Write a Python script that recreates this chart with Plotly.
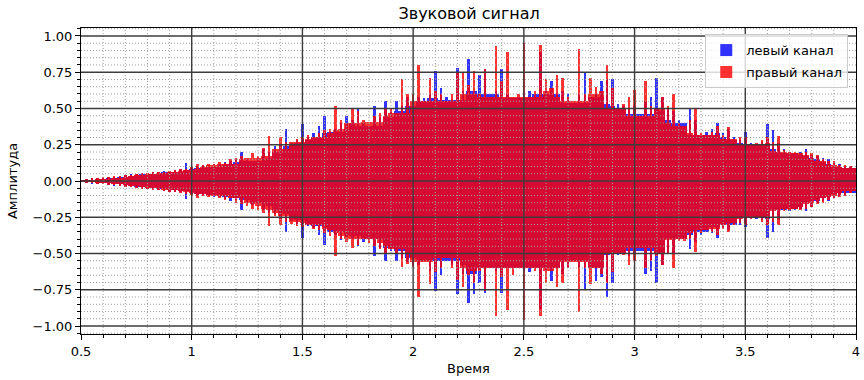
import numpy as np
import plotly.graph_objects as go

# time bins (s), one per 0.025 s from 0.5 to 4.0
t_start, t_step, n_bins = 0.5, 0.025, 141
time = np.round(t_start + t_step * np.arange(n_bins), 4)

left_up = [
    0.01,0.012,0.015,0.018,0.02,0.025,0.03,0.035,0.04,
    0.045,0.05,0.055,0.05,0.06,0.065,0.07,0.065,0.075,0.08,0.124,
    0.09,0.1,0.11,0.1,0.12,
    0.12,0.13,0.14,0.15,0.2,0.15,0.14,0.16,
    0.22,0.2,0.24,0.25,0.36,0.26,0.28,0.39,
    0.3,0.33,0.38,0.45,0.34,0.36,0.4,
    0.45,0.42,0.5,0.4,0.38,0.52,0.44,
    0.55,0.48,0.55,0.52,0.58,0.55,
    0.58,0.57,0.6,0.76,0.64,
    0.58,0.56,0.78,0.62,0.84,
    0.62,0.73,0.77,0.6,0.62,0.77,0.6,0.57,
    0.58,0.6,0.62,0.6,0.89,0.62,
    0.69,0.6,0.62,0.6,0.54,0.6,
    0.75,0.58,0.6,0.69,0.7,0.7,
    0.53,0.52,0.5,0.52,0.46,0.55,
    0.58,0.71,0.58,0.5,0.48,0.42,
    0.4,0.5,0.42,0.32,0.34,0.36,
    0.4,0.33,0.36,0.3,0.28,0.34,
    0.26,0.25,0.27,0.39,0.35,0.26,
    0.22,0.2,0.19,0.2,0.22,0.18,
    0.17,0.16,0.15,0.13,0.12,0.1,0.1,0.09,
]
left_lo = [
    -0.01,-0.012,-0.014,-0.017,-0.02,-0.024,-0.03,-0.034,-0.038,
    -0.04,-0.045,-0.05,-0.055,-0.055,-0.06,-0.065,-0.07,-0.07,-0.075,-0.122,
    -0.09,-0.1,-0.095,-0.1,-0.11,
    -0.11,-0.12,-0.14,-0.13,-0.2,-0.15,-0.16,-0.17,
    -0.2,-0.22,-0.23,-0.26,-0.35,-0.27,-0.3,-0.39,
    -0.31,-0.32,-0.37,-0.44,-0.35,-0.37,-0.41,
    -0.38,-0.4,-0.45,-0.42,-0.4,-0.52,-0.46,
    -0.55,-0.48,-0.55,-0.53,-0.56,-0.58,
    -0.58,-0.55,-0.62,-0.76,-0.65,
    -0.55,-0.58,-0.78,-0.64,-0.84,
    -0.78,-0.7,-0.77,-0.6,-0.62,-0.77,-0.6,-0.6,
    -0.6,-0.62,-0.63,-0.6,-0.88,-0.62,
    -0.69,-0.6,-0.64,-0.6,-0.55,-0.6,
    -0.75,-0.6,-0.69,-0.66,-0.8,-0.7,
    -0.51,-0.5,-0.52,-0.5,-0.48,-0.64,
    -0.62,-0.7,-0.58,-0.5,-0.5,-0.4,
    -0.4,-0.47,-0.42,-0.37,-0.35,-0.36,
    -0.39,-0.32,-0.34,-0.3,-0.3,-0.32,
    -0.25,-0.26,-0.27,-0.39,-0.35,-0.27,
    -0.2,-0.21,-0.2,-0.19,-0.21,-0.18,
    -0.15,-0.14,-0.14,-0.12,-0.1,-0.09,-0.08,-0.08,
]
right_up = [
    0.01,0.011,0.014,0.017,0.022,0.024,0.028,0.033,0.038,
    0.042,0.048,0.05,0.055,0.058,0.06,0.062,0.07,0.075,0.078,0.085,
    0.095,0.12,0.11,0.12,0.115,
    0.13,0.12,0.15,0.16,0.17,0.16,0.19,0.17,
    0.23,0.31,0.22,0.3,0.27,0.27,0.29,0.3,
    0.32,0.3,0.33,0.35,0.36,0.52,0.42,
    0.4,0.5,0.48,0.42,0.41,0.45,0.47,
    0.5,0.5,0.47,0.7,0.6,0.6,
    0.8,0.55,0.71,0.62,0.6,
    0.55,0.6,0.75,0.75,0.66,
    0.76,0.6,0.77,0.58,0.93,0.69,0.89,0.58,
    0.6,0.95,0.58,0.62,0.94,0.7,
    0.64,0.73,0.71,0.58,0.55,0.91,
    0.6,0.71,0.65,0.62,0.8,0.64,
    0.5,0.53,0.58,0.63,0.45,0.69,
    0.52,0.5,0.58,0.52,0.6,0.4,
    0.38,0.42,0.5,0.33,0.32,0.34,
    0.38,0.32,0.37,0.29,0.3,0.3,
    0.25,0.26,0.28,0.3,0.27,0.31,
    0.21,0.2,0.2,0.19,0.2,0.19,
    0.18,0.15,0.14,0.14,0.11,0.11,0.1,0.09,
]
right_lo = [
    -0.01,-0.011,-0.013,-0.016,-0.02,-0.023,-0.027,-0.032,-0.037,
    -0.04,-0.045,-0.05,-0.05,-0.06,-0.06,-0.065,-0.07,-0.075,-0.08,-0.09,
    -0.09,-0.115,-0.105,-0.11,-0.1,
    -0.12,-0.13,-0.12,-0.15,-0.16,-0.17,-0.19,-0.2,
    -0.22,-0.31,-0.24,-0.3,-0.28,-0.29,-0.31,-0.32,
    -0.3,-0.33,-0.34,-0.36,-0.38,-0.515,-0.4,
    -0.42,-0.46,-0.44,-0.4,-0.43,-0.45,-0.47,
    -0.5,-0.47,-0.5,-0.59,-0.57,-0.59,
    -0.8,-0.56,-0.71,-0.63,-0.6,
    -0.53,-0.6,-0.68,-0.73,-0.65,
    -0.7,-0.62,-0.76,-0.6,-0.93,-0.66,-0.89,-0.65,
    -0.6,-0.96,-0.6,-0.62,-0.93,-0.7,
    -0.62,-0.73,-0.7,-0.6,-0.56,-0.9,
    -0.6,-0.71,-0.6,-0.64,-0.7,-0.63,
    -0.5,-0.51,-0.58,-0.55,-0.46,-0.6,
    -0.55,-0.52,-0.58,-0.5,-0.6,-0.41,
    -0.41,-0.4,-0.49,-0.36,-0.34,-0.35,
    -0.37,-0.33,-0.35,-0.3,-0.29,-0.3,
    -0.26,-0.25,-0.28,-0.3,-0.28,-0.3,
    -0.21,-0.2,-0.19,-0.2,-0.19,-0.18,
    -0.16,-0.15,-0.13,-0.12,-0.11,-0.1,-0.08,-0.07,
]

series_names = ["левый канал", "правый канал"]
title_text = "Звуковой сигнал"
x_title = "Время"
y_title = "Амплитуда"

x_ticks = [0.5, 1.0, 1.5, 2.0, 2.5, 3.0, 3.5, 4.0]
x_tick_labels = ["0.5", "1", "1.5", "2", "2.5", "3", "3.5", "4"]
y_ticks = [-1.0, -0.75, -0.5, -0.25, 0.0, 0.25, 0.5, 0.75, 1.0]

x_range = [0.5, 4.0]
y_range = [-1.055, 1.055]
x_minor = 0.1
y_minor = 0.05

FONT = "DejaVu Sans, sans-serif"


def local_core(values, half=2):
    """Dense part of the signal: the smallest excursion among neighbouring bins."""
    v = np.abs(np.asarray(values, dtype=float))
    padded = np.concatenate([np.repeat(v[0], half), v, np.repeat(v[-1], half)])
    n = len(v)
    stacked = np.vstack([padded[k:k + n] for k in range(2 * half + 1)])
    return stacked.min(axis=0)


fig = go.Figure()
for name, up, lo, col in [
    (series_names[0], left_up, left_lo, "rgb(0,0,255)"),
    (series_names[1], right_up, right_lo, "rgb(255,0,0)"),
]:
    up = np.array(up, dtype=float)
    lo = np.array(lo, dtype=float)
    core_up = np.minimum(local_core(up), up)
    core_lo = np.maximum(-local_core(lo), lo)
    # dense core (full-width bars)
    fig.add_trace(go.Bar(
        x=time, y=core_up - core_lo, base=core_lo, width=t_step, name=name,
        legendgroup=name, marker=dict(color=col, line=dict(width=0)), opacity=0.8,
    ))
    # thin peaks reaching beyond the core
    fig.add_trace(go.Bar(
        x=time, y=up - core_up, base=core_up, width=t_step * 0.45, name=name,
        legendgroup=name, showlegend=False,
        marker=dict(color=col, line=dict(width=0)), opacity=0.8,
    ))
    fig.add_trace(go.Bar(
        x=time, y=core_lo - lo, base=lo, width=t_step * 0.45, name=name,
        legendgroup=name, showlegend=False,
        marker=dict(color=col, line=dict(width=0)), opacity=0.8,
    ))

# grid drawn above the data, as in the reference
def frange(a, b, s):
    n = int(round((b - a) / s))
    return [round(a + i * s, 6) for i in range(n + 1)]

def is_major(v, ticks):
    return any(abs(v - m) < 1e-6 for m in ticks)

shapes = []
minor_line = dict(color="#a0a0a0", width=1, dash="1px,2px")
major_line = dict(color="#3c3c3c", width=1.4)
for v in frange(x_range[0], x_range[1], x_minor):
    if not is_major(v, x_ticks):
        shapes.append(dict(type="line", xref="x", yref="paper", x0=v, x1=v, y0=0, y1=1,
                           line=minor_line, layer="above"))
for v in frange(-1.05, 1.05, y_minor):
    if not is_major(v, y_ticks):
        shapes.append(dict(type="line", xref="paper", yref="y", x0=0, x1=1, y0=v, y1=v,
                           line=minor_line, layer="above"))
for v in x_ticks[1:-1]:
    shapes.append(dict(type="line", xref="x", yref="paper", x0=v, x1=v, y0=0, y1=1,
                       line=major_line, layer="above"))
for v in y_ticks:
    shapes.append(dict(type="line", xref="paper", yref="y", x0=0, x1=1, y0=v, y1=v,
                       line=major_line, layer="above"))

fig.update_layout(
    width=864, height=380,
    margin=dict(l=81, r=8, t=28, b=46, autoexpand=False),
    paper_bgcolor="white", plot_bgcolor="white",
    barmode="overlay", bargap=0,
    font=dict(family=FONT, size=13, color="black"),
    title=dict(text=title_text, x=0.543, xanchor="center", y=0.966, yanchor="middle",
               yref="container", font=dict(size=16, family=FONT), automargin=False),
    shapes=shapes,
    legend=dict(x=0.99, y=0.98, xanchor="right", yanchor="top",
                bgcolor="rgba(255,255,255,0.8)", bordercolor="#cccccc", borderwidth=1,
                font=dict(size=13, family=FONT), itemwidth=30, tracegroupgap=2),
    showlegend=True,
)
fig.update_xaxes(
    range=x_range, tickvals=x_ticks, ticktext=x_tick_labels, showgrid=False, zeroline=False,
    showline=True, linecolor="black", linewidth=1, mirror=True,
    ticks="outside", ticklen=5, tickcolor="black",
    minor=dict(dtick=x_minor, tick0=0.5, ticks="outside", ticklen=3, tickcolor="black", showgrid=False),
    title=dict(text=x_title, standoff=6, font=dict(size=13)),
    automargin=False, layer="above traces",
)
fig.update_yaxes(
    range=y_range, tickvals=y_ticks, tickformat=".2f", showgrid=False, zeroline=False,
    showline=True, linecolor="black", linewidth=1, mirror=True,
    ticks="outside", ticklen=5, tickcolor="black",
    minor=dict(dtick=y_minor, tick0=0, ticks="outside", ticklen=3, tickcolor="black", showgrid=False),
    title=dict(text=y_title, standoff=12, font=dict(size=13)),
    automargin=False, layer="above traces",
)

fig.write_html(
    "out.html",
    config={"displayModeBar": False},
    post_script="document.body.style.margin='0';document.body.style.overflow='hidden';",
)
